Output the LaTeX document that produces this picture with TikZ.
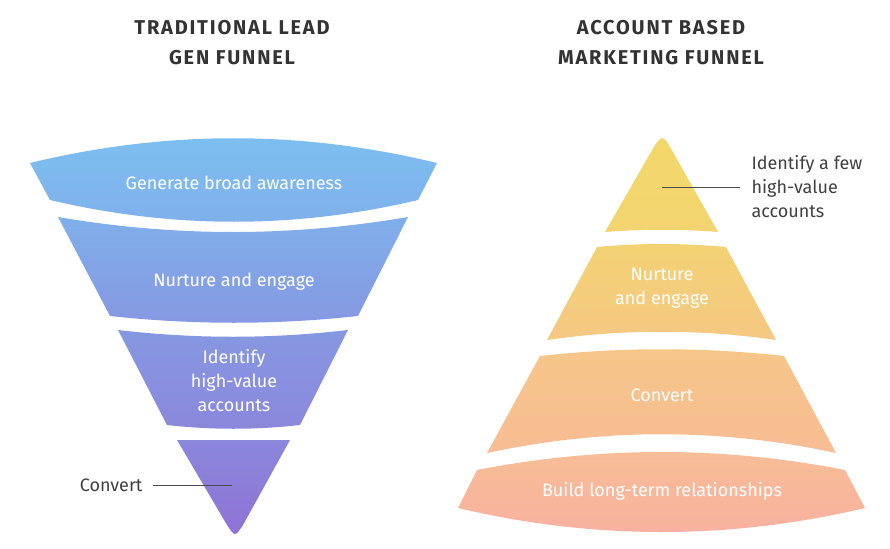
\documentclass[tikz,border=0pt]{standalone}
\usepackage{fontspec}
\usetikzlibrary{calc}
\setmainfont{Fira Sans}
\newfontfamily\titlefont[LetterSpace=9]{Fira Sans}
\begin{document}
\begin{tikzpicture}[x=1pt,y=-1pt,
  lbl/.style={text=white,font=\fontsize{18}{24}\selectfont,align=center},
  note/.style={text=black!75,font=\fontsize{18}{24}\selectfont,align=left},
  ttl/.style={text=black!80,font=\titlefont\fontsize{20}{30}\selectfont\bfseries,align=center},
  lead/.style={draw=black!70,line width=0.8pt}]
\useasboundingbox (0,0) rectangle (890,548);
% left funnel
\shade[top color={rgb,255:red,124;green,192;blue,241},bottom color={rgb,255:red,128;green,175;blue,234}]
 (30,163) .. controls (166,130) and (301,130) .. (437,163) -- (418,200) .. controls (295,229) and (173,229) .. (50,200) -- cycle;
\shade[top color={rgb,255:red,128;green,175;blue,234},bottom color={rgb,255:red,134;green,152;blue,226}]
 (58,217) .. controls (175,237) and (291,237) .. (408,217) -- (358,316) .. controls (275,325) and (193,325) .. (110,316) -- cycle;
\shade[top color={rgb,255:red,134;green,152;blue,226},bottom color={rgb,255:red,139;green,135;blue,219}]
 (118,330) .. controls (195,339) and (271,339) .. (348,330) -- (300,425) .. controls (256,430) and (211,430) .. (167,425) -- cycle;
\shade[top color={rgb,255:red,139;green,135;blue,219},bottom color={rgb,255:red,142;green,114;blue,214}]
 (177,440) -- (290,440) -- (243,525) .. controls (235,537) .. (227,525) -- cycle;
\node[lbl] (l1) at (234,183) {Generate broad awareness};
\node[lbl] (l2) at (234,282) {Nurture and engage};
\node[lbl] (l3) at (234,381) {Identify\\high-value\\accounts};
\coordinate (l4) at (232,485);
\node[note,anchor=east] (l4t) at (146,485) {Convert};
\draw[lead] ($(l4t.east)+(7,0)$) -- (l4);
% right pyramid
\shade[top color={rgb,255:red,243;green,216;blue,106},bottom color={rgb,255:red,243;green,212;blue,112}]
 (605,232) -- (655,145) .. controls (661,136) and (664,136) .. (669,145) -- (718,232) .. controls (680,229) and (643,229) .. (605,232) -- cycle;
\shade[top color={rgb,255:red,243;green,210;blue,116},bottom color={rgb,255:red,245;green,200;blue,130}]
 (597,247) .. controls (640,243) and (683,243) .. (726,247) -- (776,340) .. controls (700,329) and (623,329) .. (547,340) -- cycle;
\shade[top color={rgb,255:red,246;green,198;blue,136},bottom color={rgb,255:red,247;green,188;blue,148}]
 (540,356) .. controls (621,347) and (703,347) .. (784,356) -- (836,453) .. controls (720,428) and (603,428) .. (487,453) -- cycle;
\shade[top color={rgb,255:red,247;green,190;blue,150},bottom color={rgb,255:red,248;green,176;blue,160}]
 (477,470) .. controls (600,446) and (722,446) .. (845,470) -- (865,508) .. controls (729,540) and (594,540) .. (458,508) -- cycle;
\coordinate (r1) at (662,187);
\node[note,anchor=west] (r1t) at (748,187) {Identify a few\\high-value\\accounts};
\draw[lead] (r1) -- ($(r1t.west)+(-8,0)$);
\node[lbl] (r2) at (662,288) {Nurture\\and engage};
\node[lbl] (r3) at (662,395) {Convert};
\node[lbl] (r4) at (662,491) {Build long-term relationships};
% titles
\node[ttl] (t1) at (232,43) {TRADITIONAL LEAD\\GEN FUNNEL};
\node[ttl] (t2) at (661,43) {ACCOUNT BASED\\MARKETING FUNNEL};
\end{tikzpicture}
\end{document}
